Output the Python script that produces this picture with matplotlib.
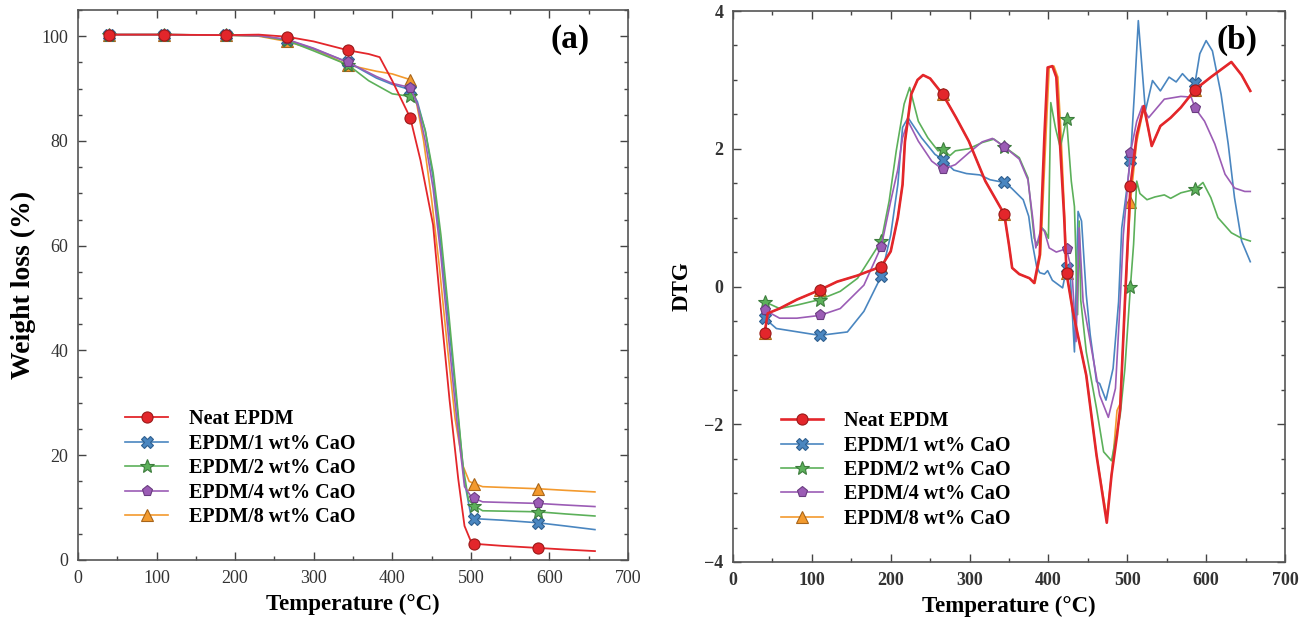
import matplotlib
matplotlib.use("Agg")
import matplotlib.pyplot as plt
from matplotlib.ticker import MultipleLocator

plt.rcParams["font.family"] = ["Liberation Serif", "DejaVu Serif"]

LABELS = ["Neat EPDM", "EPDM/1 wt% CaO", "EPDM/2 wt% CaO", "EPDM/4 wt% CaO", "EPDM/8 wt% CaO"]
COLORS = ["#e3262b", "#4a86c0", "#5cb05a", "#9b5cb5", "#f39a2e"]
EDGES = ["#9a1a1a", "#2f5f8f", "#3d7d3d", "#6a3c80", "#a8651a"]
MARKERS = ["o", "X", "*", "p", "^"]
MARK_T = [40, 110, 188, 266, 344, 423, 504, 586]

# ---------- (a) TGA weight loss ----------
tga_neat_t = [40, 110, 188, 230, 266, 300, 344, 370, 384, 400, 423, 436, 452, 463, 473, 484, 492, 500, 504, 540, 586, 620, 658]
tga_neat_w = [100.3, 100.3, 100.2, 100.3, 99.9, 99.0, 97.3, 96.6, 96.0, 91.5, 84.4, 76.3, 64.0, 46.0, 30.5, 15.5, 6.5, 3.6, 3.1, 2.7, 2.3, 2.0, 1.7]
tga_1_t = [40, 110, 188, 230, 266, 300, 344, 380, 400, 423, 432, 442, 452, 462, 472, 482, 492, 500, 504, 540, 586, 620, 658]
tga_1_w = [100.3, 100.3, 100.2, 100.1, 99.3, 97.6, 95.0, 92.0, 90.8, 89.8, 87.5, 82.0, 73.0, 60.0, 45.0, 30.0, 15.0, 8.6, 7.9, 7.6, 7.1, 6.5, 5.8]
tga_2_t = [40, 110, 188, 230, 266, 300, 344, 370, 400, 423, 432, 442, 452, 462, 472, 482, 490, 497, 504, 515, 586, 620, 658]
tga_2_w = [100.3, 100.3, 100.2, 100.1, 99.2, 97.2, 94.5, 91.5, 89.0, 88.5, 87.0, 82.0, 74.0, 62.0, 47.0, 31.0, 18.0, 11.5, 10.4, 9.4, 9.2, 8.8, 8.4]
tga_4_t = [40, 110, 188, 230, 266, 300, 344, 380, 400, 423, 432, 442, 452, 462, 472, 482, 492, 500, 504, 515, 586, 620, 658]
tga_4_w = [100.3, 100.3, 100.2, 100.1, 99.4, 97.7, 95.0, 92.3, 91.0, 90.2, 87.0, 80.0, 71.0, 58.0, 42.0, 27.0, 14.0, 12.2, 11.8, 11.1, 10.8, 10.5, 10.2]
tga_8_t = [40, 110, 188, 230, 266, 300, 344, 380, 400, 423, 430, 440, 450, 460, 470, 480, 490, 498, 504, 515, 586, 620, 658]
tga_8_w = [100.3, 100.3, 100.2, 100.0, 99.0, 97.5, 94.5, 93.3, 92.8, 91.7, 88.0, 80.0, 69.0, 56.0, 41.0, 27.0, 18.0, 15.0, 14.6, 14.0, 13.6, 13.3, 13.0]

# ---------- (b) DTG ----------
dtg_neat_t = [40, 44, 59, 81, 110, 132, 158, 167, 188, 200, 209, 215, 218, 226, 234, 241, 250, 266, 283, 299, 320, 344, 350, 354,
              363, 376, 382, 389, 395, 399, 405, 410, 414, 420, 423, 431, 448, 461, 474, 480, 487, 491, 497, 501, 504, 512, 521,
              531, 542, 555, 568, 586, 606, 632, 645, 656]
dtg_neat_d = [-0.68, -0.39, -0.32, -0.19, -0.05, 0.07, 0.16, 0.20, 0.29, 0.51, 1.00, 1.48, 2.10, 2.79, 3.00, 3.07, 3.02, 2.79, 2.45,
              2.11, 1.53, 1.05, 0.60, 0.27, 0.18, 0.12, 0.05, 0.46, 2.21, 3.18, 3.20, 3.04, 2.21, 1.00, 0.19, -0.36, -1.29, -2.45,
              -3.43, -2.74, -2.16, -1.77, -0.22, 0.75, 1.46, 2.20, 2.62, 2.04, 2.33, 2.45, 2.60, 2.86, 3.04, 3.26, 3.07, 2.84]
dtg_1_t = [40, 55, 110, 145, 166, 188, 200, 209, 215, 222, 239, 256, 266, 280, 296, 313, 326, 344, 353, 368, 375, 379, 385, 389,
           395, 399, 405, 418, 423, 428, 433, 437.6, 442, 448, 453, 461, 465, 473, 482, 489, 493, 497, 504, 509, 514, 523, 532,
           542, 553, 562, 570, 578, 586, 592, 600, 608, 619, 628, 636, 645, 656]
dtg_1_d = [-0.46, -0.61, -0.71, -0.66, -0.36, 0.15, 0.75, 1.48, 2.31, 2.45, 2.16, 1.92, 1.84, 1.69, 1.64, 1.62, 1.55, 1.51, 1.43,
           1.26, 1.02, 0.67, 0.29, 0.20, 0.18, 0.23, 0.09, -0.02, 0.27, 0.10, -0.95, 1.09, 0.95, -0.12, -0.70, -1.38, -1.41,
           -1.65, -1.19, -0.22, 0.85, 1.20, 1.84, 2.80, 3.86, 2.55, 2.99, 2.84, 3.04, 2.97, 3.09, 2.99, 2.96, 3.38, 3.57, 3.42,
           2.79, 2.07, 1.29, 0.66, 0.36]
dtg_2_t = [40, 59, 81, 110, 136, 158, 188, 198, 207, 217, 224, 235, 247, 260, 266, 275, 282, 299, 316, 331, 344, 363, 374, 378,
           382, 386, 392, 396, 400, 403, 409, 415, 423, 429, 433, 437, 439, 441, 448, 461, 470, 480, 491, 497, 504, 508, 512,
           516, 525, 535, 547, 555, 568, 586, 596, 606, 615, 632, 645, 656]
dtg_2_d = [-0.22, -0.32, -0.27, -0.19, -0.07, 0.12, 0.66, 1.24, 1.97, 2.65, 2.89, 2.40, 2.16, 1.97, 1.99, 1.90, 1.97, 2.00, 2.09,
           2.14, 2.03, 1.87, 1.58, 1.14, 0.70, 0.60, 0.85, 0.80, 0.70, 2.67, 2.30, 2.02, 2.43, 1.53, 1.16, -0.41, 0.95, -0.20,
           -0.95, -1.77, -2.40, -2.53, -1.87, -1.19, 0.00, 0.61, 1.53, 1.35, 1.26, 1.30, 1.33, 1.28, 1.36, 1.41, 1.51, 1.29,
           1.00, 0.78, 0.70, 0.66]
dtg_4_t = [40, 59, 81, 110, 136, 166, 188, 200, 209, 215, 222, 235, 252, 266, 282, 299, 316, 329, 344, 363, 374, 380, 384, 391,
           395, 401, 410, 423, 430, 435, 439, 444, 453, 465, 476, 485, 491, 495, 504, 512, 519, 527, 547, 568, 581, 586, 598,
           611, 624, 636, 649, 656]
dtg_4_d = [-0.34, -0.46, -0.46, -0.42, -0.32, 0.02, 0.58, 1.24, 1.70, 2.16, 2.40, 2.11, 1.82, 1.70, 1.77, 1.94, 2.10, 2.15, 2.03,
           1.85, 1.55, 1.00, 0.56, 0.85, 0.80, 0.56, 0.50, 0.55, 0.20, -0.80, 0.85, -0.22, -0.80, -1.58, -1.90, -1.48, -0.22,
           0.75, 1.94, 2.40, 2.62, 2.45, 2.72, 2.76, 2.75, 2.59, 2.40, 2.07, 1.63, 1.43, 1.38, 1.38]
dtg_8_t = [40, 44, 59, 81, 110, 132, 158, 167, 188, 200, 209, 215, 218, 226, 234, 241, 250, 266, 283, 299, 320, 344, 350, 354,
           363, 376, 383, 390, 397, 401, 407, 412, 416, 421, 423, 431, 448, 461, 474, 480, 487, 491, 497, 501, 504, 512, 521,
           531, 542, 555, 568, 586, 606, 632, 645, 656]
dtg_8_d = [-0.68, -0.39, -0.32, -0.19, -0.05, 0.07, 0.16, 0.20, 0.29, 0.51, 1.00, 1.48, 2.10, 2.79, 3.00, 3.07, 3.02, 2.79, 2.45,
           2.11, 1.53, 1.05, 0.60, 0.27, 0.18, 0.12, 0.05, 0.46, 2.21, 3.18, 3.20, 3.04, 2.21, 0.90, 0.19, -0.36, -1.29, -2.45,
           -3.35, -2.74, -1.80, -1.70, -0.30, 0.60, 1.23, 2.10, 2.60, 2.04, 2.33, 2.45, 2.60, 2.86, 3.04, 3.26, 3.07, 2.84]

tga = [(tga_neat_t, tga_neat_w), (tga_1_t, tga_1_w), (tga_2_t, tga_2_w), (tga_4_t, tga_4_w), (tga_8_t, tga_8_w)]
dtg = [(dtg_neat_t, dtg_neat_d), (dtg_1_t, dtg_1_d), (dtg_2_t, dtg_2_d), (dtg_4_t, dtg_4_d), (dtg_8_t, dtg_8_d)]

fig = plt.figure(figsize=(12.99, 6.25), dpi=100)
axA = fig.add_axes([0.060, 0.104, 0.4234, 0.880])
axB = fig.add_axes([0.5643, 0.1008, 0.4249, 0.8816])

def draw(ax, series, lw_red):
    # orange first so the neat curve sits on top of it
    handles = {}
    for i in [4, 1, 2, 3, 0]:
        t, v = series[i]
        idx = [k for k, tt in enumerate(t) if tt in MARK_T]
        ms = 10 if MARKERS[i] == "*" else 8
        ln, = ax.plot(t, v, color=COLORS[i], lw=lw_red if i == 0 else 1.2, marker=MARKERS[i],
                      markevery=idx, ms=ms, mfc=COLORS[i], mec=EDGES[i], mew=0.8, label=LABELS[i],
                      zorder=3 if i == 0 else 2)
        handles[i] = ln
    return [handles[i] for i in range(5)]

def style(ax, tick_bold):
    ax.set_xlim(0, 700)
    ax.xaxis.set_major_locator(MultipleLocator(100))
    ax.xaxis.set_minor_locator(MultipleLocator(50))
    ax.tick_params(which="both", direction="in", top=True, right=True, colors="#444",
                   labelcolor="#333", labelsize=13, width=1.0, pad=7)
    ax.tick_params(which="major", length=6)
    ax.tick_params(which="minor", length=3)
    for s in ax.spines.values():
        s.set_color("#555"); s.set_linewidth(1.2)
    for lab in ax.get_xticklabels() + ax.get_yticklabels():
        lab.set_fontweight("bold" if tick_bold else "normal")
    ax.set_xlabel("Temperature (°C)", fontsize=16.5, fontweight="bold", labelpad=5)

def legend(ax, handles):
    ax.legend(handles=handles, loc="upper left", bbox_to_anchor=(0.068, 0.292), frameon=False, borderpad=0,
              handlelength=2.1, handletextpad=1.05, labelspacing=0.22, prop={"weight": "bold", "size": 14.5})

hA = draw(axA, tga, 1.3)
axA.set_ylim(0, 105)
axA.yaxis.set_major_locator(MultipleLocator(20))
axA.yaxis.set_minor_locator(MultipleLocator(5))
style(axA, False)
axA.set_ylabel("Weight loss (%)", fontsize=20, fontweight="bold", labelpad=4)
axA.text(0.93, 0.975, "(a)", transform=axA.transAxes, ha="right", va="top", fontsize=24, fontweight="bold")
legend(axA, hA)

hB = draw(axB, dtg, 1.9)
axB.set_ylim(-4, 4)
axB.yaxis.set_major_locator(MultipleLocator(2))
axB.yaxis.set_minor_locator(MultipleLocator(0.5))
style(axB, True)
axB.set_ylabel("DTG", fontsize=16.5, fontweight="bold", labelpad=8)
axB.text(0.95, 0.975, "(b)", transform=axB.transAxes, ha="right", va="top", fontsize=24, fontweight="bold")
legend(axB, hB)

fig.savefig("out.png", dpi=100)
